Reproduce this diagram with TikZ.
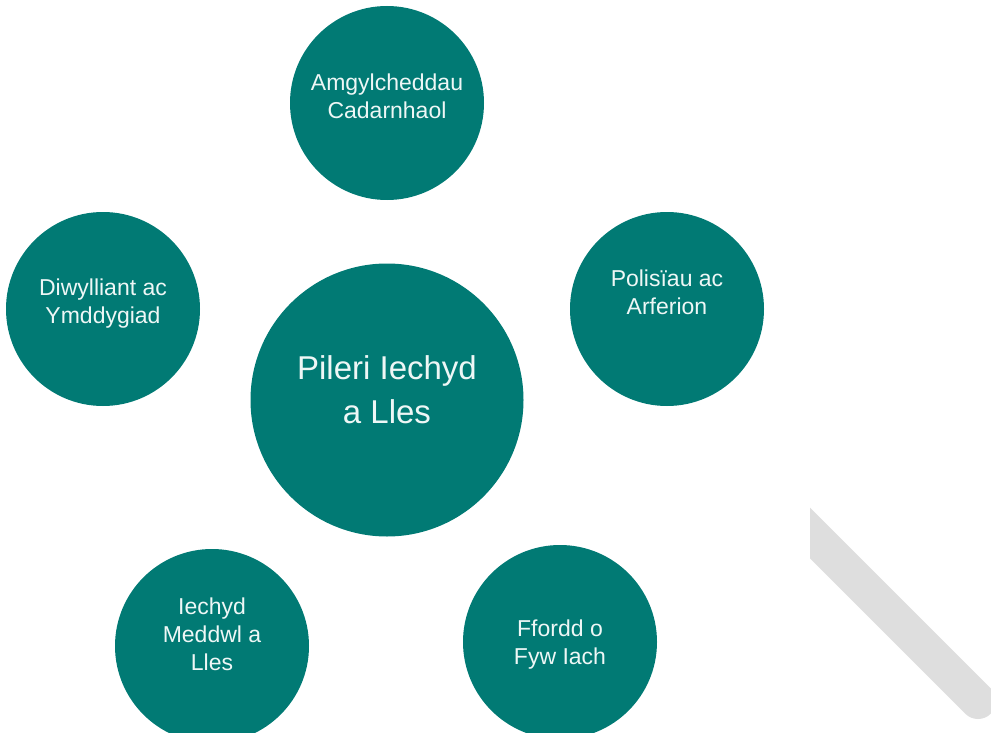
\documentclass[tikz,border=0pt]{standalone}
\usepackage{fontspec}
\setmainfont{Liberation Sans}
\definecolor{tealfill}{HTML}{017A74}
\definecolor{bandgray}{HTML}{DEDEDE}
\definecolor{txtcol}{HTML}{EEF7F6}
\begin{document}
\begin{tikzpicture}[x=1pt,y=-1pt,
  pillar/.style={circle, fill=tealfill, minimum size=194pt, inner sep=0pt},
  hub/.style={circle, fill=tealfill, minimum size=273pt, inner sep=0pt},
  smalltxt/.style={text=txtcol, align=center, font=\fontsize{23}{28}\selectfont, inner sep=0pt},
  bigtxt/.style={text=txtcol, align=center, font=\fontsize{33}{44}\selectfont, inner sep=0pt}]
\useasboundingbox (0,0) rectangle (991,733);
\clip (0,0) rectangle (991,733);
\begin{scope}
  \clip (810,0) rectangle (991,733);
  \coordinate (bs) at (790,513);
  \coordinate (be) at (978,701);
  \draw[bandgray, line width=36pt, line cap=round] (bs) -- (be);
\end{scope}
\node[hub] (hub) at (387,400) {};
\node[bigtxt] (hubtxt) at (387,390) {Pileri Iechyd\\a Lles};
\node[pillar] (top) at (387,103) {};
\node[smalltxt] (toptxt) at (387,96) {Amgylcheddau\\Cadarnhaol};
\node[pillar] (left) at (103,309) {};
\node[smalltxt] (lefttxt) at (103,304) {Diwylliant ac\\Ymddygiad};
\node[pillar] (right) at (667,309) {};
\node[smalltxt] (righttxt) at (667,292) {Polisïau ac\\Arferion};
\node[pillar] (bl) at (212,646) {};
\node[smalltxt] (bltxt) at (212,634) {Iechyd\\Meddwl a\\Lles};
\node[pillar] (br) at (560,642) {};
\node[smalltxt] (brtxt) at (560,645) {Ffordd o\\Fyw Iach};
\end{tikzpicture}
\end{document}
